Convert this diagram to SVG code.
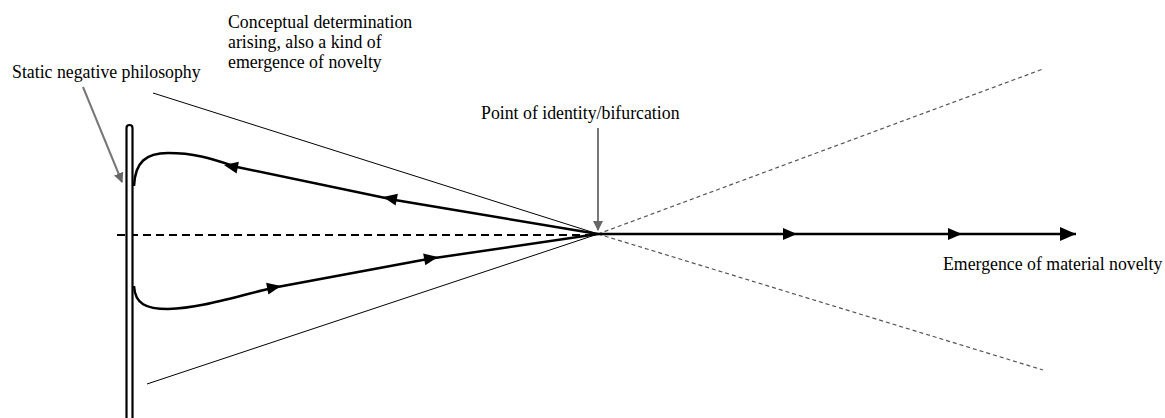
<svg xmlns="http://www.w3.org/2000/svg" width="1165" height="418" viewBox="0 0 1165 418">
<defs>
<style>
.lbl{font-family:"Liberation Serif","Times New Roman",serif;font-size:17.8px;fill:#000}
.thin{stroke:#000;stroke-width:1;fill:none}
.thick{stroke:#000;stroke-width:2.5;fill:none}
.dash{stroke:#000;stroke-width:2;stroke-dasharray:8 5;fill:none}
.dot{stroke:#555;stroke-width:1.2;stroke-dasharray:4 3;fill:none}
.gray{stroke:#777;stroke-width:2;fill:none}
</style>
<polygon id="ah" points="0,0 -14,-6 -14,6" fill="#000"/>
<marker id="garr" markerWidth="10" markerHeight="10" refX="9" refY="5" orient="auto" markerUnits="userSpaceOnUse" viewBox="0 0 10 10">
<path d="M0,0 L10,5 L0,10 z" fill="#666"/>
</marker>
<marker id="barr" markerWidth="16" markerHeight="14" refX="16" refY="7" orient="auto" markerUnits="userSpaceOnUse" viewBox="0 0 16 14">
<path d="M0,0 L16,7 L0,14 z" fill="#000"/>
</marker>
</defs>
<rect width="1165" height="418" fill="#fff"/>
<g id="connectors">
<line class="dash" x1="117" y1="235" x2="598" y2="235"/>
<line class="thin" x1="153" y1="93" x2="598" y2="234"/>
<line class="thin" x1="147" y1="384" x2="598" y2="234"/>
<line class="dot" x1="598" y1="234" x2="1043" y2="69"/>
<line class="dot" x1="598" y1="234" x2="1043" y2="370"/>
<line class="thick" x1="598" y1="234" x2="1076" y2="234" marker-end="url(#barr)"/>
<use href="#ah" transform="translate(797,234)"/>
<use href="#ah" transform="translate(962,234)"/>
<path class="thick" d="M134,186 C135,162 146,153 168,153 C198,153 215,160 237,167 L395,200 L598,234"/>
<use href="#ah" transform="translate(224,165) rotate(191)"/>
<use href="#ah" transform="translate(383,197) rotate(191)"/>
<path class="thick" d="M134,286 C135,304 146,309 168,309 C200,308 230,298 272,288 L428,259 L598,234"/>
<use href="#ah" transform="translate(281,286) rotate(-11)"/>
<use href="#ah" transform="translate(438,257) rotate(-10)"/>
<line class="gray" x1="83" y1="87" x2="122" y2="182" marker-end="url(#garr)"/>
<line class="gray" x1="598" y1="128" x2="598" y2="230" marker-end="url(#garr)"/>
</g>
<g id="bar">
<rect x="126.5" y="125" width="6" height="300" rx="3" fill="#fff" stroke="#000" stroke-width="2.2"/>
</g>
<g id="label-static">
<text class="lbl" x="12" y="78">Static negative philosophy</text>
</g>
<g id="label-conceptual">
<text class="lbl" x="228" y="28">Conceptual determination</text>
<text class="lbl" x="228" y="48">arising, also a kind of</text>
<text class="lbl" x="228" y="68">emergence of novelty</text>
</g>
<g id="label-point">
<text class="lbl" x="481" y="119">Point of identity/bifurcation</text>
</g>
<g id="label-emergence">
<text class="lbl" x="943" y="270">Emergence of material novelty</text>
</g>
</svg>
